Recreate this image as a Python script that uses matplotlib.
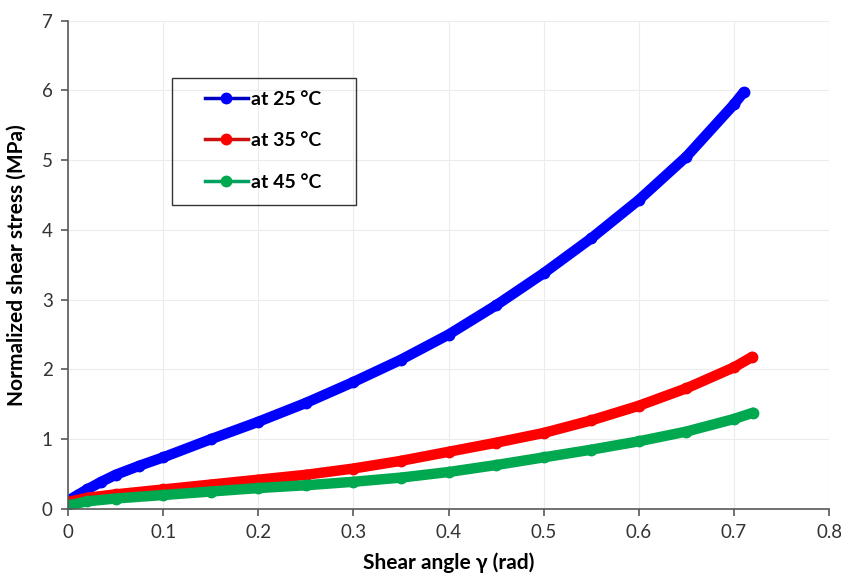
import matplotlib.pyplot as plt
from matplotlib.lines import Line2D
from matplotlib.patches import Rectangle

plt.rcParams['font.family'] = ['Lato', 'DejaVu Sans']

# shear angle (rad) and normalized shear stress (MPa)
x_25 = [0.0, 0.01, 0.02, 0.035, 0.05, 0.075, 0.10, 0.15, 0.20, 0.25, 0.30, 0.35,
        0.40, 0.45, 0.50, 0.55, 0.60, 0.65, 0.70, 0.71]
y_25 = [0.12, 0.2, 0.28, 0.39, 0.49, 0.62, 0.74, 1.0, 1.25, 1.52, 1.82, 2.14,
        2.5, 2.92, 3.38, 3.88, 4.43, 5.05, 5.8, 5.97]

x_35 = [0.0, 0.02, 0.05, 0.10, 0.15, 0.20, 0.25, 0.30, 0.35, 0.40, 0.45, 0.50,
        0.55, 0.60, 0.65, 0.70, 0.719]
y_35 = [0.1, 0.16, 0.21, 0.28, 0.35, 0.42, 0.49, 0.58, 0.69, 0.82, 0.95, 1.09,
        1.27, 1.48, 1.73, 2.03, 2.18]

x_45 = [0.0, 0.02, 0.05, 0.10, 0.15, 0.20, 0.25, 0.30, 0.35, 0.40, 0.45, 0.50,
        0.55, 0.60, 0.65, 0.70, 0.72]
y_45 = [0.05, 0.11, 0.15, 0.2, 0.25, 0.3, 0.34, 0.39, 0.45, 0.53, 0.63, 0.74,
        0.85, 0.97, 1.11, 1.29, 1.38]

labels = ['at 25 °C', 'at 35 °C', 'at 45 °C']
colors = ['#0000ff', '#ff0000', '#00a84f']
line_colors = ['#0000c0', '#cc1010', '#00a060']

fig = plt.figure(figsize=(8.41, 5.78), dpi=100)
ax = fig.add_axes([0.0809, 0.1194, 0.905, 0.845])

for xs, ys, c in zip([x_25, x_35, x_45], [y_25, y_35, y_45], colors):
    ax.plot(xs, ys, color=c, lw=7.5, marker='o', ms=7.5,
            solid_capstyle='round', solid_joinstyle='round')

ax.set_xlim(0, 0.8)
ax.set_ylim(0, 7)
ax.set_xticks([0, 0.1, 0.2, 0.3, 0.4, 0.5, 0.6, 0.7, 0.8])
ax.set_xticklabels(['0', '0.1', '0.2', '0.3', '0.4', '0.5', '0.6', '0.7', '0.8'])
ax.set_yticks(range(8))
ax.grid(True, color='#ececec', lw=0.8)
ax.set_axisbelow(True)
for s in ['top', 'right']:
    ax.spines[s].set_visible(False)
for s in ['left', 'bottom']:
    ax.spines[s].set_color('#595959')
    ax.spines[s].set_linewidth(1.2)
ax.tick_params(colors='#595959', labelcolor='#333333', labelsize=13.5,
               length=5, width=1.2, pad=6)

ax.set_xlabel('Shear angle γ (rad)', fontsize=15, fontweight='bold', labelpad=8)
ax.set_ylabel('Normalized shear stress (MPa)', fontsize=15, fontweight='bold',
              labelpad=11)

# legend box
fig.patches.append(Rectangle((0.2045, 0.6453), 0.2188, 0.2197,
                             transform=fig.transFigure, fill=False,
                             edgecolor='#333333', lw=1.0))

handles = [Line2D([0], [0], color=lc, lw=2.5, marker='o', ms=7.5,
                  markerfacecolor=c, markeredgecolor=c)
           for c, lc in zip(colors, line_colors)]
ax.legend(handles, labels, loc='upper left', bbox_to_anchor=(0.18, 0.856),
          frameon=False, prop={'weight': 'bold', 'size': 14}, labelspacing=1.25,
          handlelength=2.2, handletextpad=0.15, borderpad=0, borderaxespad=0)

fig.savefig('out.png', dpi=100)
